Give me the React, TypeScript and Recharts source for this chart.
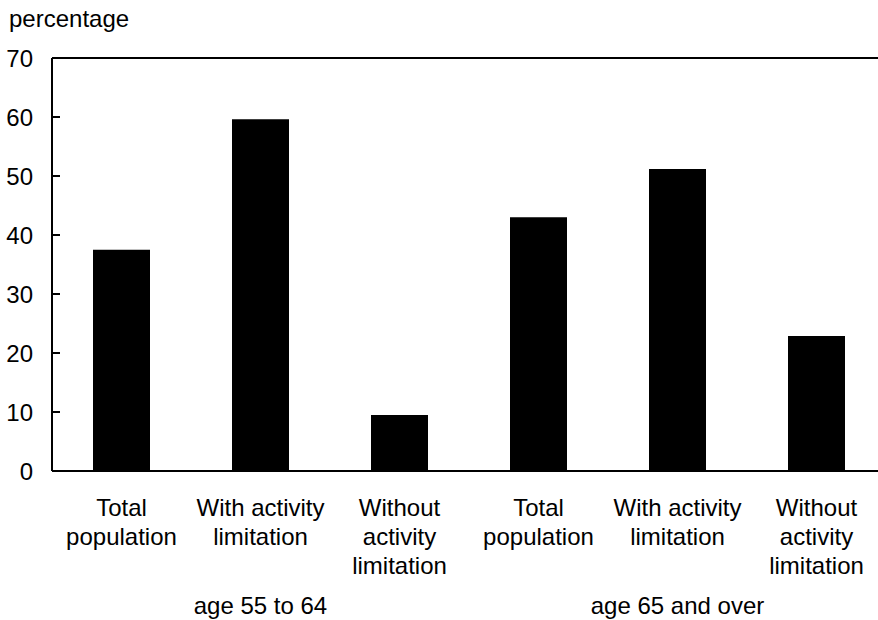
import { Bar, BarChart, XAxis, YAxis, ReferenceLine } from "recharts"

const groups = ["age 55 to 64", "age 65 and over"]
const subgroupLines = [
  ["Total", "population"],
  ["With activity", "limitation"],
  ["Without", "activity", "limitation"],
]
const values = [37.5, 59.6, 9.5, 43.0, 51.2, 22.9]
const yTicks = [0, 10, 20, 30, 40, 50, 60, 70]

const data = values.map((v, i) => ({
  name: subgroupLines[i % 3].join(" "),
  group: groups[Math.floor(i / 3)],
  value: v,
}))

const font = "'Liberation Sans', Arial, Helvetica, sans-serif"

function XTick(props: any) {
  const { x, y, index } = props
  const lines = subgroupLines[index % 3]
  return (
    <g>
      {lines.map((l, k) => (
        <text key={k} x={x} y={y + 43 + k * 29} textAnchor="middle" fontSize={24} fontFamily={font} fill="#000">
          {l}
        </text>
      ))}
      {index % 3 === 1 && (
        <text x={x} y={y + 141} textAnchor="middle" fontSize={24} fontFamily={font} fill="#000">
          {groups[Math.floor(index / 3)]}
        </text>
      )}
    </g>
  )
}

function YTick(props: any) {
  const { x, y, payload } = props
  return (
    <g>
      <line x1={x} x2={x + 8} y1={y} y2={y} stroke="#000" strokeWidth={2} />
      <text x={x - 19} y={y} dy="0.355em" textAnchor="end" fontSize={24} fontFamily={font} fill="#000">
        {payload.value}
      </text>
    </g>
  )
}

export default function App() {
  return (
    <div style={{ position: "absolute", left: 0, top: 0, width: 878, height: 620, overflow: "hidden", background: "#fff" }}>
      <div style={{ position: "absolute", left: 9, top: 5, fontFamily: font, fontSize: 24, color: "#000" }}>
        percentage
      </div>
      <BarChart width={886} height={620} data={data} margin={{ top: 58, right: 0, left: 0, bottom: 0 }}>
        <XAxis
          dataKey="name"
          height={149}
          tick={<XTick />}
          tickLine={false}
          tickSize={0}
          interval={0}
          axisLine={{ stroke: "#000", strokeWidth: 2 }}
        />
        <YAxis
          width={52}
          domain={[0, 70]}
          ticks={yTicks}
          tick={<YTick />}
          tickLine={false}
          tickSize={0}
          tickMargin={0}
          axisLine={{ stroke: "#000", strokeWidth: 2 }}
        />
        <ReferenceLine y={70} stroke="#000" strokeWidth={2} />
        <Bar dataKey="value" fill="#000" barSize={57} isAnimationActive={false} />
      </BarChart>
    </div>
  )
}
